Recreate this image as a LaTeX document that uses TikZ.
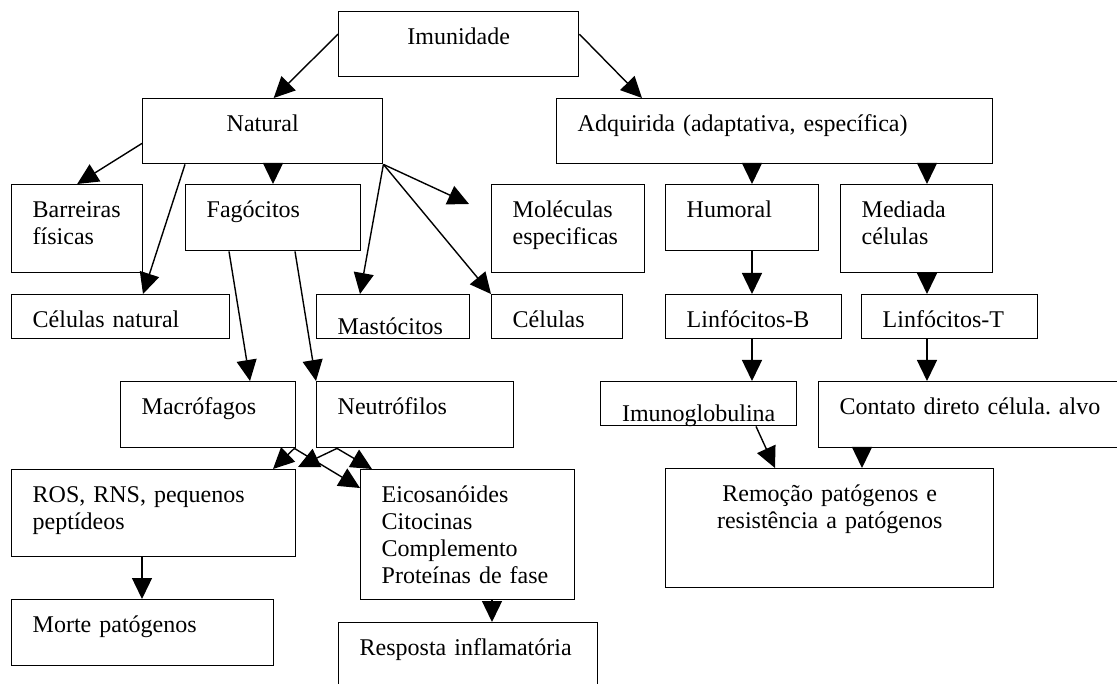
\documentclass[tikz,border=0pt]{standalone}
\usepackage{fontspec}
\setmainfont{Liberation Serif}
\usepackage{tikz}
\usetikzlibrary{arrows.meta}
\frenchspacing

\begin{document}
\begin{tikzpicture}[x=1pt, y=-1pt, line width=1.4pt]
\tikzstyle{caixa} = [rectangle, draw = black, anchor = north west, inner ysep = 0pt, inner xsep = 21pt, align = left, text height = 33pt, font = \fontsize{24}{27}\selectfont]
\tikzstyle{seta} = [-{Triangle[length=21pt, width=20pt]}]
\useasboundingbox (0,0) rectangle (1117,684);
% topo
\node (imun) [caixa, align = center, text width = 198pt, text depth = 32pt] at (338,11) {Imunidade};
\node (natural) [caixa, align = center, text width = 198pt, text depth = 32pt] at (142,98) {Natural};
\node (adquirida) [caixa, text width = 394pt, text depth = 32pt] at (556,98) {Adquirida (adaptativa, específica)};
% segunda linha
\node (barreiras) [caixa, text width = 89pt, text depth = 55pt] at (11,184) {Barreiras\\físicas};
\node (fagocitos) [caixa, text width = 133pt, text depth = 33pt] at (185,184) {Fagócitos};
\node (moleculas) [caixa, text width = 111pt, text depth = 55pt] at (491,184) {Moléculas\\especificas};
\node (humoral) [caixa, text width = 111pt, text depth = 33pt] at (665,184) {Humoral};
\node (mediada) [caixa, text width = 110pt, text depth = 55pt] at (840,184) {Mediada\\células};
% terceira linha
\node (celnat) [caixa, text width = 176pt, text depth = 11pt] at (11,294) {Células natural};
\node (mastocitos) [caixa, text width = 111pt, text height = 40pt, text depth = 4pt] at (316,294) {Mastócitos};
\node (celulas) [caixa, text width = 89pt, text depth = 11pt] at (491,294) {Células};
\node (linfb) [caixa, text width = 134pt, text depth = 11pt] at (665,294) {Linfócitos-B};
\node (linft) [caixa, text width = 134pt, text depth = 11pt] at (861,294) {Linfócitos-T};
% quarta linha
\node (macrofagos) [caixa, text width = 133pt, text depth = 33pt] at (120,381) {Macrófagos};
\node (neutrofilos) [caixa, text width = 155pt, text depth = 33pt] at (316,381) {Neutrófilos};
\node (imuno) [caixa, align = center, inner xsep = 10pt, text width = 176pt, text height = 40pt, text depth = 4pt] at (600,381) {Imunoglobulina};
\node (contato) [caixa, text width = 268pt, text depth = 33pt] at (818,381) {Contato direto célula. alvo};
% baixo
\node (ros) [caixa, text width = 242pt, text depth = 54pt] at (11,469) {ROS, RNS, pequenos\\peptídeos};
\node (eicos) [caixa, text width = 172pt, text depth = 97pt] at (360,469) {Eicosanóides\\Citocinas\\Complemento\\Proteínas de fase};
\node (remocao) [caixa, align = center, text width = 286pt, text depth = 86pt] at (665,468) {Remoção patógenos e\\resistência a patógenos};
\node (morte) [caixa, text width = 220pt, text depth = 33pt] at (11,599) {Morte patógenos};
\node (resposta) [caixa, text width = 217pt, text depth = 47pt] at (338,622) {Resposta inflamatória};
\coordinate (molponta) at (469,204);
% setas
\draw [seta] ([yshift=10pt]imun.west) -- ([xshift=11pt]natural.north);
\draw [seta] ([yshift=10pt]imun.east) -- ([xshift=86pt]adquirida.north west);
\draw [seta] ([yshift=21pt]natural.south west) -- (barreiras.north);
\draw [seta] ([xshift=43pt]natural.south west) -- ([xshift=132pt]celnat.north west);
\draw [seta] ([xshift=131pt]natural.south west) -- ([xshift=88pt]fagocitos.north west);
\draw [seta] (natural.south east) -- (molponta);
\draw [seta] (natural.south east) -- ([xshift=44pt]mastocitos.north west);
\draw [seta] (natural.south east) -- (celulas.north west);
\draw [seta] ([xshift=196pt]adquirida.south west) -- ([xshift=87pt]humoral.north west);
\draw [seta] ([xshift=371pt]adquirida.south west) -- ([xshift=87pt]mediada.north west);
\draw [seta] ([xshift=87pt]humoral.south west) -- ([xshift=87pt]linfb.north west);
\draw [seta] ([xshift=87pt]mediada.south west) -- ([xshift=66pt]linft.north west);
\draw [seta] ([xshift=87pt]linfb.south west) -- ([xshift=152pt]imuno.north west);
\draw [seta] ([xshift=66pt]linft.south west) -- ([xshift=109pt]contato.north west);
\draw [seta] ([xshift=156pt]imuno.south west) -- ([xshift=110pt]remocao.north west);
\draw [seta] ([xshift=44pt]contato.south west) -- ([xshift=197pt]remocao.north west);
\draw [seta] ([xshift=44pt]fagocitos.south west) -- ([xshift=130pt]macrofagos.north west);
\draw [seta] ([xshift=110pt]fagocitos.south west) -- (neutrofilos.north west);
\draw [seta] ([xshift=-2pt]macrofagos.south east) -- ([xshift=262pt]ros.north west);
\draw [seta] ([xshift=-2pt]macrofagos.south east) -- ([yshift=-19pt]eicos.north west);
\draw [seta] ([xshift=21pt]neutrofilos.south west) -- ([xshift=287pt, yshift=2pt]ros.north west);
\draw [seta] ([xshift=21pt]neutrofilos.south west) -- ([xshift=12pt]eicos.north west);
\draw [seta] ([xshift=131pt]ros.south west) -- ([xshift=131pt]morte.north west);
\draw [seta] ([xshift=132pt]eicos.south west) -- ([xshift=154pt]resposta.north west);
\end{tikzpicture}
\end{document}
